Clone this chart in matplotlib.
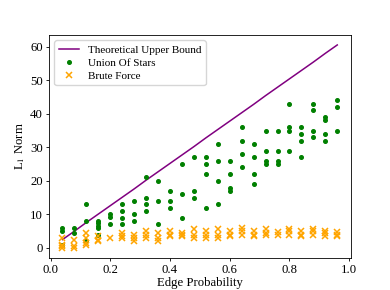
import matplotlib
matplotlib.use('Agg')
import matplotlib.pyplot as plt
import numpy as np

plt.rcParams['font.family'] = ['Liberation Serif', 'DejaVu Serif']
plt.rcParams['mathtext.fontset'] = 'stix'
plt.rcParams['font.size'] = 9.2

probs = [0.04, 0.08, 0.12, 0.16, 0.20, 0.24, 0.28, 0.32, 0.36, 0.40, 0.44, 0.48,
         0.52, 0.56, 0.60, 0.64, 0.68, 0.72, 0.76, 0.80, 0.84, 0.88, 0.92, 0.96]

bound = [2.5, 5.0, 7.6, 10.1, 12.6, 15.1, 17.6, 20.2, 22.7, 25.2, 27.7, 30.2,
         32.8, 35.3, 37.8, 40.3, 42.8, 45.4, 47.9, 50.4, 52.9, 55.4, 58.0, 60.5]

union_stars = [[6, 5, 1], [6, 4.5], [13, 8, 2], [8, 7.3, 6.6, 6, 4], [10, 9.3, 7],
               [13, 11, 9, 7], [14, 10, 8], [21, 15, 13, 11], [20, 14, 7], [17, 14, 12],
               [25, 16, 9], [27, 17, 15], [27, 25, 22, 12], [31, 26, 20, 13],
               [26, 22, 18, 17], [36, 32, 28, 24], [31, 27, 22, 19], [35, 29, 26, 25],
               [35, 29, 26, 25], [43, 36, 35, 29], [36, 34, 32, 27], [43, 41, 35, 33],
               [39, 38, 34, 32], [44, 42, 35]]

brute_force = [[3, 1, 0.5, 0], [2.5, 0.5, 0], [4.5, 3, 1.5, 1], [3.5, 2.5, 2], [3],
               [4.5, 3.5, 3], [4, 3, 2], [5, 4, 3], [4.5, 3, 2], [5, 4, 3.5],
               [4.5, 4, 3.5], [5.5, 4, 3], [5, 4, 3], [5.5, 4, 3], [5, 4, 3.5],
               [6, 5, 4], [5, 4, 3.5], [5.5, 4.5, 4], [4.7, 4], [5.7, 5, 4],
               [5, 4, 3.5], [5.7, 5, 4], [5, 4.5, 3.5], [4.7, 4, 3.5]]


def flatten(groups):
    xs, ys = [], []
    for p, vals in zip(probs, groups):
        for v in vals:
            xs.append(p)
            ys.append(v)
    return xs, ys


fig, ax = plt.subplots(figsize=(3.9, 2.9), dpi=100)
fig.subplots_adjust(left=0.125, right=0.9, top=0.88, bottom=0.11)

ux, uy = flatten(union_stars)
bx, by = flatten(brute_force)

ax.plot(probs, bound, color='purple', lw=1.1, label='Theoretical Upper Bound')
ax.plot(ux, uy, 'o', color='green', ms=2.6, ls='none', label='Union Of Stars')
ax.plot(bx, by, 'x', color='orange', ms=4, mew=1.1, ls='none', label='Brute Force')

ax.set_xlabel('Edge Probability', labelpad=1)
ax.set_ylabel(r'L$_1$ Norm', labelpad=2)
ax.set_xticks([0.0, 0.2, 0.4, 0.6, 0.8, 1.0])
ax.set_yticks([0, 10, 20, 30, 40, 50, 60])
ax.tick_params(length=2.2, width=0.6, pad=2)
for s in ax.spines.values():
    s.set_linewidth(0.6)
ax.legend(loc='upper left', fontsize=8, handlelength=1.8, borderpad=0.4,
          labelspacing=0.3, framealpha=0.8)

fig.savefig('out.png', dpi=100)
